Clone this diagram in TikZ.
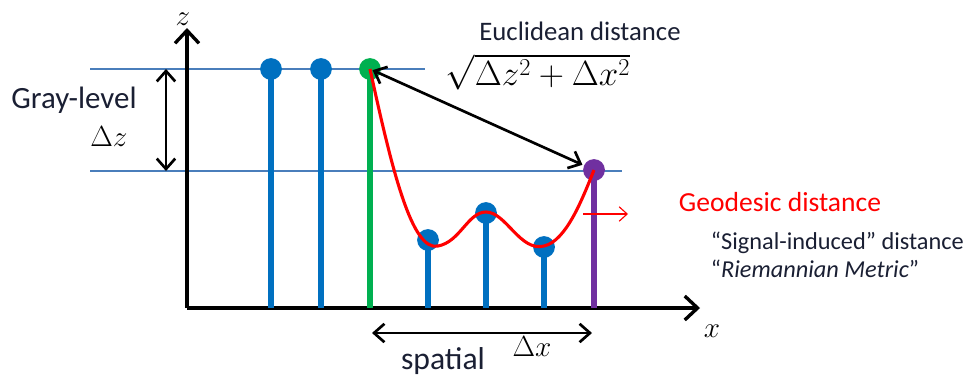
\documentclass[tikz,border=0pt]{standalone}
\usepackage{fontspec}
\setmainfont{Carlito}
\usetikzlibrary{arrows.meta}
\definecolor{StemBlue}{HTML}{0070C0}
\definecolor{StemGreen}{HTML}{00B050}
\definecolor{StemPurple}{HTML}{7030A0}
\definecolor{GuideBlue}{HTML}{4A7EBB}
\definecolor{TextNavy}{HTML}{1A1F33}

\begin{document}
\begin{tikzpicture}[x=0.025cm,y=-0.025cm,line join=round,
  font=\fontsize{19}{21}\selectfont,
  stem/.style={line width=4.4pt},
  dot/.style={circle,inner sep=0pt,minimum size=15.5pt},
  axis/.style={line width=2.8pt,-{Straight Barb[length=3.2mm,width=6mm,line width=2.4pt]}},
  guide/.style={GuideBlue,line width=0.8pt},
  span/.style={line width=1.9pt,{Straight Barb[length=2.6mm,width=4.6mm]}-{Straight Barb[length=2.6mm,width=4.6mm]}},
  mathlbl/.style={font=\fontsize{22}{24}\selectfont}]
  \useasboundingbox (0,0) rectangle (973,383);
  % guide lines
  \draw[guide] (90,69) -- (425,69);
  \draw[guide] (90,171) -- (622,171);
  % axes
  \coordinate (origin) at (187,308);
  \coordinate (zend) at (187,28);
  \coordinate (xend) at (700,308);
  \draw[axis] (origin) -- (zend);
  \draw[axis] (origin) -- (xend);
  \node[mathlbl,inner sep=1pt] (zlbl) at (183,19) {$z$};
  \node[mathlbl] (xlbl) at (712,331) {$x$};
  % stems
  \foreach \n/\x/\y/\c in {s1/271/69/StemBlue,s2/321/69/StemBlue,s3/370/69/StemGreen,
      s4/428/240/StemBlue,s5/486/213/StemBlue,s6/544/247/StemBlue,s7/594/170/StemPurple}{
    \draw[stem,\c] (\x,308) -- (\x,\y);
    \node[dot,fill=\c] (\n) at (\x,\y) {};
  }
  % geodesic path
  \draw[red,line width=2.2pt] (s3.center) .. controls (392,170) and (412,252) .. (438,246)
    .. controls (460,242) and (468,212) .. (486,212)
    .. controls (506,212) and (520,252) .. (544,246)
    .. controls (566,241) and (582,200) .. (s7.center);
  \coordinate (geo) at (583,214);
  \draw[red,line width=0.8pt,-{Straight Barb[length=2mm,width=3.6mm]}] (geo) -- ++(45,0);
  % euclidean
  \draw[span,shorten <=2pt,shorten >=9pt] (s3.center) -- (s7.center);
  \node[text=TextNavy] (eucl) at (580,31) {Euclidean distance};
  \node[font=\fontsize{24.5}{26}\selectfont] (sqrt) at (538,72) {$\sqrt{\Delta z^2+\Delta x^2}$};
  % gray-level
  \coordinate (gtop) at (166,69);
  \coordinate (gbot) at (166,171);
  \draw[span] (gtop) -- (gbot);
  \node[text=TextNavy,font=\fontsize{22}{24}\selectfont] (gray) at (74,100) {Gray-level};
  \node[mathlbl] (dz) at (109,137) {$\Delta z$};
  % spatial
  \coordinate (sleft) at (372,333);
  \coordinate (sright) at (592,333);
  \draw[span] (sleft) -- (sright);
  \node[text=TextNavy,font=\fontsize{22.5}{24}\selectfont] (spat) at (443,361) {spatial};
  \node[mathlbl] (dx) at (532,347) {$\Delta x$};
  % geodesic labels
  \node[text=red,font=\fontsize{19.6}{21}\selectfont] (geod) at (780,202) {Geodesic distance};
  \node[text=TextNavy,font=\fontsize{17.3}{19}\selectfont,anchor=west] (sig) at (706,243) {“Signal-induced” distance};
  \node[text=TextNavy,font=\fontsize{17.3}{19}\selectfont,anchor=west] (riem) at (706,269) {“\textit{Riemannian Metric}”};
\end{tikzpicture}
\end{document}
